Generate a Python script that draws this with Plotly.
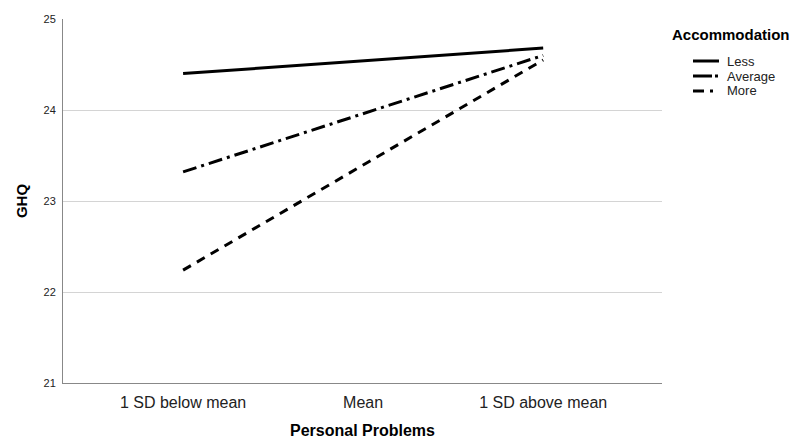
import plotly.graph_objects as go

categories = ["1 SD below mean", "Mean", "1 SD above mean"]
groups = ["Less", "Average", "More"]
low_values = [24.40, 23.32, 22.24]
high_values = [24.68, 24.60, 24.55]
y_ticks = [21, 22, 23, 24, 25]
dashes = ["solid", "14px,5px,3px,5px", "9px,7px"]

FONT = "Liberation Sans, Arial, sans-serif"
# page body has an 8px margin; compensate so the figure fills the 800x439 window
OFF = 8
W, H = 800 - OFF, 439 - OFF
ml, mt = 63 - OFF, 19 - OFF
mr = W - (662 - OFF)
mb = H - (383 - OFF)
pw, ph = W - ml - mr, H - mt - mb

def px(x):
    return (x - OFF - ml) / pw

def py(y):
    return 1 - (y - OFF - mt) / ph

fig = go.Figure()
for g, lo, hi, d in zip(groups, low_values, high_values, dashes):
    fig.add_trace(go.Scatter(
        x=[0, 2], y=[lo, hi], mode="lines", name=g, showlegend=False,
        line=dict(color="black", width=3, dash=d),
    ))

# manual legend (SPSS-style compact spacing)
fig.add_annotation(text="<b>Accommodation</b>", x=px(670), y=py(35), xref="paper", yref="paper",
                   xanchor="left", yanchor="middle", showarrow=False,
                   font=dict(size=15, color="black", family=FONT))
legend_dashes = ["solid", "19px,3px,3px,10px", "11px,6px,3px,10px"]
for i, (g, d) in enumerate(zip(groups, legend_dashes)):
    yy = 61 + 15 * i
    fig.add_shape(type="line", xref="paper", yref="paper", x0=px(693), x1=px(719),
                  y0=py(yy), y1=py(yy), line=dict(color="black", width=3, dash=d))
    fig.add_annotation(text=g, x=px(725), y=py(yy), xref="paper", yref="paper",
                       xanchor="left", yanchor="middle", showarrow=False,
                       font=dict(size=13, color="#222222", family=FONT))

fig.update_layout(
    width=W, height=H,
    margin=dict(l=ml, r=mr, t=mt, b=mb),
    paper_bgcolor="white", plot_bgcolor="white",
    font=dict(family=FONT, color="#222222"),
    showlegend=False,
)
fig.update_xaxes(
    range=[-0.667, 2.66], tickmode="array", tickvals=[0, 1, 2], ticktext=categories,
    showgrid=False, zeroline=False, showline=True, linecolor="#888888", linewidth=1,
    ticks="", tickfont=dict(size=16, color="#222222"), ticklabelstandoff=5, automargin=False,
    title=dict(text="<b>Personal Problems</b>", font=dict(size=16, color="black"), standoff=21),
)
fig.update_yaxes(
    range=[21, 25], tickmode="array", tickvals=y_ticks, ticktext=[str(v) for v in y_ticks],
    showgrid=True, gridcolor="#d4d4d4", gridwidth=1, zeroline=False,
    showline=True, linecolor="#888888", linewidth=1, ticks="", automargin=False,
    tickfont=dict(size=11, color="#222222"), ticklabelstandoff=4,
    title=dict(text="<b>GHQ</b>", font=dict(size=15, color="black"), standoff=12),
)
fig.write_html("out.html")
